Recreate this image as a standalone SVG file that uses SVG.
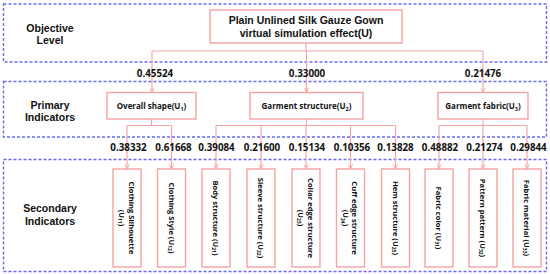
<svg xmlns="http://www.w3.org/2000/svg" width="550" height="274" viewBox="0 0 550 274">
<defs>
<style>
.lvl{fill:none;stroke:#6a6af5;stroke-width:1.4;stroke-dasharray:3 2}
.nd{fill:#fff;stroke:#f5a3a3;stroke-width:1.4}
.cn{fill:none;stroke:#f5a3a3;stroke-width:1.1}
.ar{fill:none;stroke:#f5a3a3;stroke-width:1.1;marker-end:url(#ah)}
text{font-family:"Open Sans","Noto Sans","Liberation Sans",sans-serif;font-weight:700;fill:#111;text-anchor:middle}
.lt{font-family:"Liberation Sans","Open Sans",sans-serif;font-size:10.5px}
.t0{font-family:"Liberation Sans","Open Sans",sans-serif;font-size:10.5px}
.t1{font-size:8px}
.w{font-size:9.8px}
.t2{font-size:7.6px;font-weight:700}
</style>
<marker id="ah" viewBox="0 0 8 8" refX="7.5" refY="4" markerWidth="5" markerHeight="5" orient="auto" markerUnits="userSpaceOnUse">
<path d="M0,0.5 L7.5,4 L0,7.5" fill="none" stroke="#f5a3a3" stroke-width="1.4"/>
</marker>
</defs>
<rect width="550" height="274" fill="#fff"/>
<g id="levels">
<rect class="lvl" x="3.5" y="4" width="543" height="58"/>
<rect class="lvl" x="3.5" y="81.5" width="543" height="55.5"/>
<rect class="lvl" x="3.5" y="159.5" width="543" height="112"/>
<text class="lt" x="50" y="31.5">Objective</text>
<text class="lt" x="50" y="44">Level</text>
<text class="lt" x="50" y="108.5">Primary</text>
<text class="lt" x="50" y="121">Indicators</text>
<text class="lt" x="50" y="212">Secondary</text>
<text class="lt" x="50" y="224.5">Indicators</text>
</g>
<g id="connectors">
<path class="cn" d="M306,43 V51 M152,51 H483"/>
<path class="ar" d="M152,51 V92.5"/>
<path class="ar" d="M306.5,51 V92.5"/>
<path class="ar" d="M483,51 V92.5"/>
<path class="cn" d="M151.5,119 V125.5 M127,125.5 H171.5"/>
<path class="cn" d="M306.5,119 V125.5 M216,125.5 H395.5"/>
<path class="cn" d="M483,119 V125.5 M439,125.5 H527"/>
<path class="ar" d="M127,125.5 V169"/>
<path class="ar" d="M171.5,125.5 V169"/>
<path class="ar" d="M216,125.5 V169"/>
<path class="ar" d="M261,125.5 V169"/>
<path class="ar" d="M306,125.5 V169"/>
<path class="ar" d="M350.5,125.5 V169"/>
<path class="ar" d="M395.5,125.5 V169"/>
<path class="ar" d="M439,125.5 V169"/>
<path class="ar" d="M483,125.5 V169"/>
<path class="ar" d="M527,125.5 V169"/>
<text class="w" x="155" y="76.5">0.45524</text>
<text class="w" x="307" y="76.5">0.33000</text>
<text class="w" x="483" y="76.5">0.21476</text>
<text class="w" x="128.5" y="150.5">0.38332</text>
<text class="w" x="173.5" y="150.5">0.61668</text>
<text class="w" x="216.5" y="150.5">0.39084</text>
<text class="w" x="262" y="150.5">0.21600</text>
<text class="w" x="307" y="150.5">0.15134</text>
<text class="w" x="352" y="150.5">0.10356</text>
<text class="w" x="395.5" y="150.5">0.13828</text>
<text class="w" x="440" y="150.5">0.48882</text>
<text class="w" x="484.5" y="150.5">0.21274</text>
<text class="w" x="528.5" y="150.5">0.29844</text>
</g>
<g id="U">
<rect class="nd" x="210" y="10" width="192" height="33"/>
<text class="t0" x="306" y="24.3">Plain Unlined Silk Gauze Gown</text>
<text class="t0" x="306" y="36.8">virtual simulation effect(U)</text>
</g>
<g id="U1">
<rect class="nd" x="107" y="92.5" width="89" height="26.5"/>
<text class="t1" x="151.5" y="109">Overall shape(U<tspan font-size="5.5" dy="1.5">1</tspan><tspan dy="-1.5">)</tspan></text>
</g>
<g id="U2">
<rect class="nd" x="250" y="92.5" width="113" height="26.5"/>
<text class="t1" x="306.5" y="109">Garment structure(U<tspan font-size="5.5" dy="1.5">2</tspan><tspan dy="-1.5">)</tspan></text>
</g>
<g id="U3">
<rect class="nd" x="438" y="92.5" width="90" height="26.5"/>
<text class="t1" x="483" y="109">Garment fabric(U<tspan font-size="5.5" dy="1.5">3</tspan><tspan dy="-1.5">)</tspan></text>
</g>
<g id="U11">
<rect class="nd" x="113" y="169" width="28" height="98"/>
<g transform="translate(127,218) rotate(90)">
<text class="t2" x="0" y="-1.6">Clothing Silhouette</text>
<text class="t2" x="0" y="8">(U<tspan font-size="5" dy="1.3">11</tspan><tspan dy="-1.3">)</tspan></text>
</g>
</g>
<g id="U12">
<rect class="nd" x="157.5" y="169" width="28" height="98"/>
<g transform="translate(171.5,218) rotate(90)">
<text class="t2" x="0" y="2.7">Clothing Style (U<tspan font-size="5" dy="1.3">12</tspan><tspan dy="-1.3">)</tspan></text>
</g>
</g>
<g id="U21">
<rect class="nd" x="202" y="169" width="28" height="98"/>
<g transform="translate(216,218) rotate(90)">
<text class="t2" x="0" y="2.7">Body structure (U<tspan font-size="5" dy="1.3">21</tspan><tspan dy="-1.3">)</tspan></text>
</g>
</g>
<g id="U22">
<rect class="nd" x="247" y="169" width="28" height="98"/>
<g transform="translate(261,218) rotate(90)">
<text class="t2" x="0" y="2.7">Sleeve structure (U<tspan font-size="5" dy="1.3">22</tspan><tspan dy="-1.3">)</tspan></text>
</g>
</g>
<g id="U23">
<rect class="nd" x="292" y="169" width="28" height="98"/>
<g transform="translate(306,218) rotate(90)">
<text class="t2" x="0" y="-1.6">Collar edge structure</text>
<text class="t2" x="0" y="8">(U<tspan font-size="5" dy="1.3">23</tspan><tspan dy="-1.3">)</tspan></text>
</g>
</g>
<g id="U24">
<rect class="nd" x="336.5" y="169" width="28" height="98"/>
<g transform="translate(350.5,218) rotate(90)">
<text class="t2" x="0" y="-1.6">Cuff edge structure</text>
<text class="t2" x="0" y="8">(U<tspan font-size="5" dy="1.3">24</tspan><tspan dy="-1.3">)</tspan></text>
</g>
</g>
<g id="U25">
<rect class="nd" x="381.5" y="169" width="28" height="98"/>
<g transform="translate(395.5,218) rotate(90)">
<text class="t2" x="0" y="2.7">Hem structure (U<tspan font-size="5" dy="1.3">25</tspan><tspan dy="-1.3">)</tspan></text>
</g>
</g>
<g id="U31">
<rect class="nd" x="425" y="169" width="28" height="98"/>
<g transform="translate(439,218) rotate(90)">
<text class="t2" x="0" y="2.7">Fabric color (U<tspan font-size="5" dy="1.3">31</tspan><tspan dy="-1.3">)</tspan></text>
</g>
</g>
<g id="U32">
<rect class="nd" x="469" y="169" width="28" height="98"/>
<g transform="translate(483,218) rotate(90)">
<text class="t2" x="0" y="2.7">Pattern pattern (U<tspan font-size="5" dy="1.3">32</tspan><tspan dy="-1.3">)</tspan></text>
</g>
</g>
<g id="U33">
<rect class="nd" x="513" y="169" width="28" height="98"/>
<g transform="translate(527,218) rotate(90)">
<text class="t2" x="0" y="2.7">Fabric material (U<tspan font-size="5" dy="1.3">33</tspan><tspan dy="-1.3">)</tspan></text>
</g>
</g>
</svg>
